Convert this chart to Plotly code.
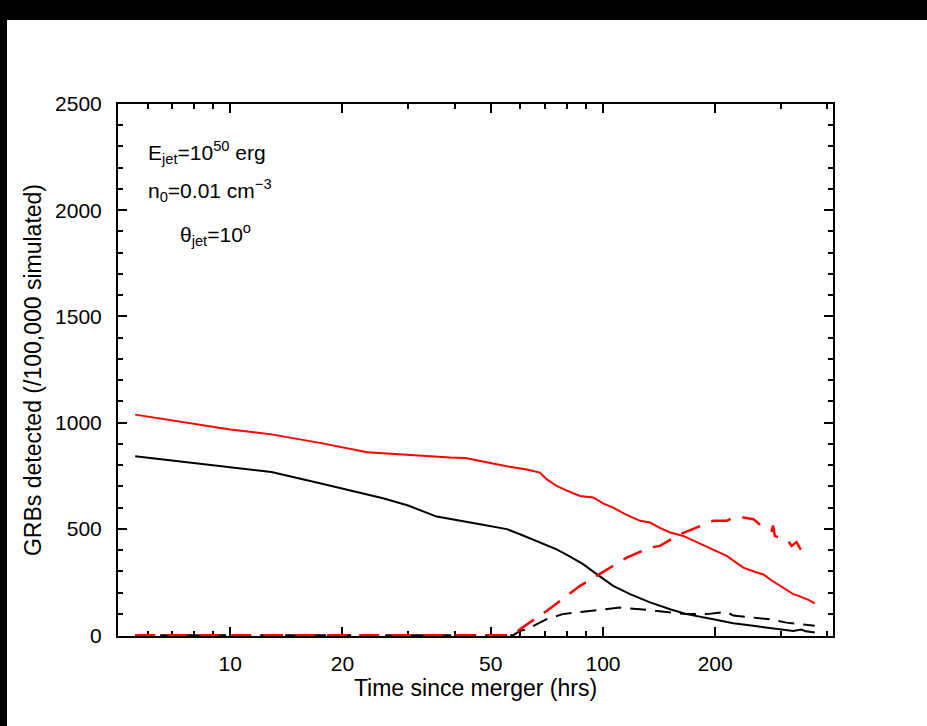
import plotly.graph_objects as go

# ---- data (hours, GRBs detected per 100,000 simulated) ----
red_solid_t = [5.56, 7.1, 10, 12.9, 17.4, 23.3, 30, 38.9, 42.7, 48.8, 55.2, 62.4, 67.7, 70.6,
               75.1, 80, 86.8, 94.2, 100, 106.5, 115, 125.7, 133.7, 142, 151.4, 164.2, 175,
               189.6, 200, 214.6, 225, 237.9, 258.4, 270, 280.5, 300, 323.8, 335, 344.4, 357, 370]
red_solid_v = [1038, 1010, 968, 945, 905, 861, 848, 836, 834, 812, 795, 780, 765, 734,
               702, 680, 655, 648, 620, 600, 568, 538, 530, 505, 483, 467, 445,
               420, 398, 373, 348, 318, 295, 285, 263, 230, 193, 185, 177, 165, 150]

red_dash_t = [5.56, 57.5, 59.9, 70.6, 86.8, 102.4, 115.8, 133.7, 142.2, 160.8, 178.3, 197.6,
              214.6, 223.5, 237.9, 253, 269, 283.3, 286, 289, 313.9, 320.5, 330.6, 344.4]
red_dash_v = [0, 0, 28, 114, 232, 310, 365, 412, 420, 475, 507, 538,
              538, 554, 554, 546, 507, 492, 515, 467, 444, 420, 438, 381]

black_solid_t = [5.56, 10, 12.9, 17.4, 25.7, 30, 35.8, 46.8, 55.2, 59.9, 67.7, 75.1, 81.6,
                 88.4, 96.2, 106.5, 118.2, 133.7, 151.4, 167.6, 197.6, 223.5, 253, 298.3,
                 323.8, 340, 350, 370]
black_solid_v = [842, 790, 768, 715, 644, 610, 558, 522, 499, 475, 436, 404, 370,
                 334, 287, 232, 193, 154, 122, 99, 75, 56, 44, 28,
                 20, 26, 18, 12]

black_dash_t = [5.56, 57.5, 59.9, 62.4, 70.6, 78, 86.8, 96.2, 111.1, 125.7, 148.2, 167.6,
                189.6, 214.6, 223.5, 253, 280.5, 310.6, 370]
black_dash_v = [0, 0, 20, 28, 75, 99, 109, 118, 130, 122, 109, 99,
                99, 109, 92, 83, 75, 59, 44]

x_major = [10, 20, 50, 100, 200]
x_minor = [6, 7, 8, 9, 30, 40, 60, 70, 80, 90, 300, 400]

FONT = "Liberation Sans, Arial, Helvetica, sans-serif"

fig = go.Figure()
fig.add_trace(go.Scatter(x=black_dash_t, y=black_dash_v, mode="lines",
                         line=dict(color="black", width=2, dash="16px,9px")))
fig.add_trace(go.Scatter(x=black_solid_t, y=black_solid_v, mode="lines",
                         line=dict(color="black", width=2)))
fig.add_trace(go.Scatter(x=red_dash_t, y=red_dash_v, mode="lines",
                         line=dict(color="#ff0000", width=2.5, dash="20px,12px")))
fig.add_trace(go.Scatter(x=red_solid_t, y=red_solid_v, mode="lines",
                         line=dict(color="#ff0000", width=2)))

L, R, T, B = 118, 94, 104, 90
W, H = 927, 726
pw, ph = W - L - R, H - T - B

def px2x(p):
    return (p - L) / pw

def py2y(p):
    return (H - B - p) / ph

fig.add_shape(type="rect", xref="paper", yref="paper",
              x0=px2x(7), x1=px2x(W + 5), y0=py2y(20), y1=py2y(H + 5),
              fillcolor="white", line=dict(width=0), layer="below")

axis_common = dict(showline=True, linecolor="black", linewidth=2, mirror="allticks",
                   ticks="inside", ticklen=9, tickwidth=1.5, tickcolor="black",
                   showgrid=False, zeroline=False, layer="below traces",
                   tickfont=dict(family=FONT, size=21, color="black"))

fig.update_xaxes(type="log", range=[0.699, 2.617], tickmode="array", tickvals=x_major,
                 ticktext=[str(v) for v in x_major], ticklabelstandoff=8,
                 minor=dict(tickmode="array", tickvals=x_minor, ticks="inside", ticklen=5,
                            tickcolor="black", tickwidth=1.5, showgrid=False),
                 title=dict(text="Time since merger (hrs)", font=dict(family=FONT, size=23, color="black"),
                            standoff=4),
                 **axis_common)
fig.update_yaxes(range=[-4, 2500], tickmode="array", tickvals=[0, 500, 1000, 1500, 2000, 2500],
                 ticklabelstandoff=10,
                 minor=dict(tickmode="array", tickvals=[v for v in range(100, 2500, 100) if v % 500],
                            ticks="inside", ticklen=5, tickcolor="black",
                            tickwidth=1.5, showgrid=False),
                 title=dict(text="GRBs detected (/100,000 simulated)",
                            font=dict(family=FONT, size=23, color="black"), standoff=7),
                 **axis_common)

ann_font = dict(family=FONT, size=21, color="black")
fig.add_annotation(x=px2x(146), y=py2y(152), xref="paper", yref="paper", xanchor="left",
                   yanchor="middle", showarrow=False, font=ann_font,
                   text="E<sub>jet</sub>=10<sup>50</sup> erg")
fig.add_annotation(x=px2x(146), y=py2y(190), xref="paper", yref="paper", xanchor="left",
                   yanchor="middle", showarrow=False, font=ann_font,
                   text="n<sub>0</sub>=0.01 cm<sup>−3</sup>")
fig.add_annotation(x=px2x(178), y=py2y(235), xref="paper", yref="paper", xanchor="left",
                   yanchor="middle", showarrow=False, font=ann_font,
                   text="θ<sub>jet</sub>=10<sup>o</sup>")

fig.update_layout(width=W, height=H, margin=dict(l=L, r=R, t=T, b=B),
                  paper_bgcolor="black", plot_bgcolor="white", showlegend=False,
                  font=dict(family=FONT, color="black"))

fig.write_html("out.html")
